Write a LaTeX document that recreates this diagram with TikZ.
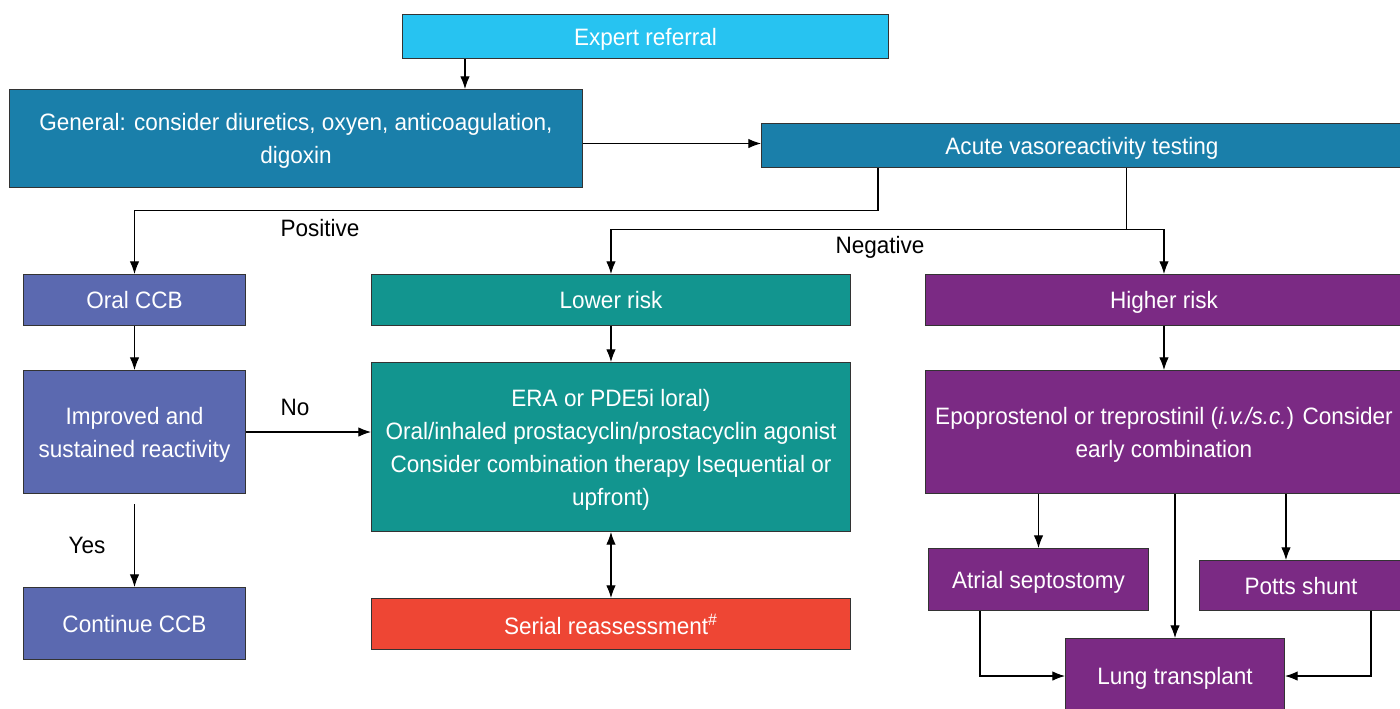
\documentclass[tikz,border=0pt]{standalone}
\usepackage{fontspec}
\setmainfont{Liberation Sans}[FakeStretch=0.95]
\usetikzlibrary{arrows.meta}
\definecolor{cexpert}{HTML}{27C3F1}
\definecolor{cgeneral}{HTML}{1A7FAA}
\definecolor{cccb}{HTML}{5B69B0}
\definecolor{clower}{HTML}{12958F}
\definecolor{chigher}{HTML}{7B2A84}
\definecolor{cserial}{HTML}{EE4634}
\definecolor{cborder}{HTML}{333333}
\tikzset{
  box/.style={draw=cborder, line width=0.6pt, anchor=north west, inner sep=2pt,
    text depth=0pt, text=white, align=center, font=\fontsize{13.5}{18.8}\selectfont},
  lbl/.style={text=black, font=\fontsize{13.5}{18.8}\selectfont, inner sep=0pt},
  arr/.style={-{Latex[length=7.2pt,width=5.4pt]}, line width=0.6pt, black},
  darr/.style={{Latex[length=7.2pt,width=5.4pt]}-{Latex[length=7.2pt,width=5.4pt]}, line width=0.6pt, black},
  ln/.style={line width=0.6pt, black}
}
\begin{document}
\begin{tikzpicture}[x=0.02cm, y=-0.02cm]
\useasboundingbox (0,0) rectangle (1400,709);
\fill[white] (0,0) rectangle (1400,709);

\node[box, fill=cexpert, minimum width=9.72cm, minimum height=0.88cm] (expert) at (402,14) {Expert referral};
\node[box, fill=cgeneral, minimum width=11.46cm, minimum height=1.96cm] (general) at (9,89) {General: consider diuretics, oxyen, anticoagulation,\\digoxin};
\node[box, fill=cgeneral, minimum width=12.82cm, minimum height=0.88cm] (acute) at (761,123) {Acute vasoreactivity testing};

\node[box, fill=cccb, minimum width=4.44cm, minimum height=1.02cm] (ocb) at (23,274) {Oral CCB};
\node[box, fill=clower, minimum width=9.58cm, minimum height=1.02cm] (lower) at (371,274) {Lower risk};
\node[box, fill=chigher, minimum width=9.54cm, minimum height=1.02cm] (higher) at (925,274) {Higher risk};

\node[box, fill=cccb, minimum width=4.44cm, minimum height=2.46cm] (improved) at (23,370) {Improved and\\sustained reactivity};
\node[box, fill=cccb, minimum width=4.44cm, minimum height=1.44cm] (continue) at (23,587) {Continue CCB};

\node[box, fill=clower, minimum width=9.58cm, minimum height=3.38cm] (era) at (371,362) {ERA or PDE5i loral)\\Oral/inhaled prostacyclin/prostacyclin agonist\\Consider combination therapy Isequential or\\upfront)};
\node[box, fill=cserial, minimum width=9.58cm, minimum height=1.02cm] (serial) at (371,598) {Serial reassessment\textsuperscript{\#}};

\node[box, fill=chigher, minimum width=9.54cm, minimum height=2.46cm] (epo) at (925,370) {Epoprostenol or treprostinil (\textit{i.v./s.c.}) Consider\\early combination};
\node[box, fill=chigher, minimum width=4.40cm, minimum height=1.24cm] (atrial) at (928,548) {Atrial septostomy};
\node[box, fill=chigher, minimum width=4.06cm, minimum height=1.0cm] (potts) at (1199,560) {Potts shunt};
\node[box, fill=chigher, minimum width=4.38cm, minimum height=1.5cm] (lung) at (1065,638) {Lung transplant};

\node[lbl] (positive) at (320,228) {Positive};
\node[lbl] (negative) at (880,247) {Negative};
\node[lbl] (no) at (295,407) {No};
\node[lbl] (yes) at (87,545) {Yes};

% connectors
\draw[arr] ([xshift=1.26cm]expert.south west) -- ([xshift=1.26cm]expert.south west |- general.north);
\draw[arr] ([yshift=-0.1cm]general.east) -- ([yshift=-0.1cm]general.east -| acute.west);
\draw[arr] ([xshift=2.34cm]acute.south west) -- ++(0,42) -| (ocb.north);
\draw[ln] ([xshift=7.32cm]acute.south west) -- ++(0,61) coordinate (negsplit);
\draw[arr] (negsplit) -| (lower.north);
\draw[arr] (negsplit) -| (higher.north);
\draw[arr] (ocb.south) -- (improved.north);
\draw[arr] (improved.east) -- (improved.east -| era.west);
\draw[arr] ([yshift=-0.2cm]improved.south) -- (continue.north);
\draw[arr] (lower.south) -- (era.north);
\draw[darr] (era.south) -- (serial.north);
\draw[arr] (higher.south) -- (epo.north);
\draw[arr] (atrial.north |- epo.south) -- (atrial.north);
\draw[arr] (lung.north |- epo.south) -- (lung.north);
\draw[arr] ([xshift=1.74cm]potts.north west |- epo.south) -- ([xshift=1.74cm]potts.north west);
\draw[arr] ([xshift=1.04cm]atrial.south west) |- (lung.west);
\draw[arr] ([xshift=3.44cm]potts.south west) |- (lung.east);
\end{tikzpicture}
\end{document}
